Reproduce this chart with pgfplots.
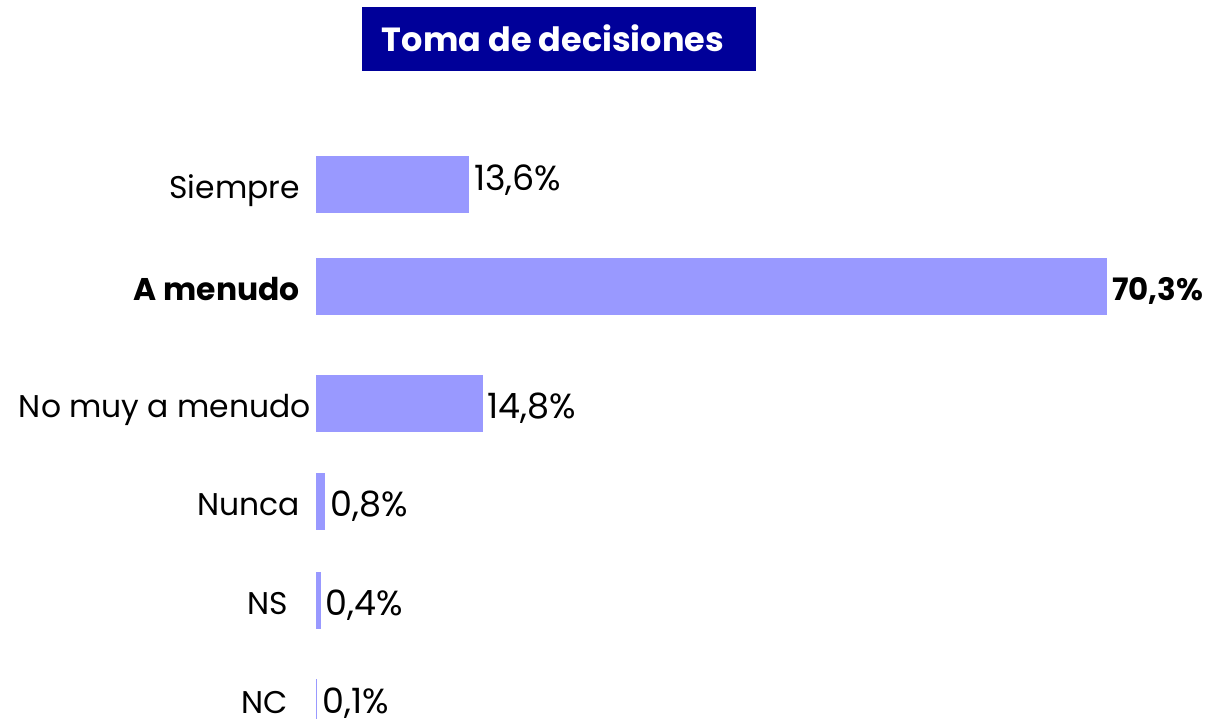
\documentclass[border=0pt]{standalone}
\usepackage{pgfplots}
\pgfplotsset{compat=1.18}
\usepackage{fontspec}
\setmainfont{Poppins}
\definecolor{barc}{HTML}{9999FF}
\definecolor{titc}{HTML}{000099}
\begin{document}
\begin{tikzpicture}
\useasboundingbox (0,0) rectangle (1212bp,-724bp);
\fill[titc] (362bp,-7bp) rectangle (756bp,-71bp);
\node[inner sep=0pt, text=white, anchor=base,
      font=\fontsize{33.6}{40}\selectfont\bfseries] at (553bp,-51bp) {Toma de decisiones};
\begin{axis}[
  at={(316bp,0bp)}, anchor=north west,
  scale only axis, width=900bp, height=724bp,
  xmin=0, xmax=80, ymin=0, ymax=724, y dir=reverse,
  axis line style={draw=none}, major tick length=0pt,
  xtick=\empty,
  ytick={184,286,403,501,600,699},
  yticklabels={Siempre, \textbf{A menudo}, No muy a menudo\kern-11bp, Nunca, NS\kern12bp, NC\kern12bp},
  yticklabel style={font=\fontsize{31.5}{38}\selectfont, inner sep=0pt, anchor=base east, xshift=-16bp, yshift=-14bp},
  xbar, bar width=57bp, bar shift=0pt,
  clip=false,
  nodes near coords, point meta=explicit symbolic,
  nodes near coords style={anchor=base west, inner sep=0pt, xshift=5bp, yshift=-15bp, font=\fontsize{35}{42}\selectfont},
]
\addplot[fill=barc, draw=none, nodes near coords style={yshift=9bp}] coordinates {(13.6,184) [13,6\%]};
\addplot[fill=barc, draw=none, nodes near coords style={yshift=1bp, font=\fontsize{31}{38}\selectfont\bfseries}] coordinates {(70.3,286) [70,3\%]};
\addplot[fill=barc, draw=none] coordinates {(14.8,403) [14,8\%]};
\addplot[fill=barc, draw=none] coordinates {(0.8,501) [0,8\%]};
\addplot[fill=barc, draw=none] coordinates {(0.4,600) [0,4\%]};
\addplot[fill=barc, draw=none, bar width=40bp, nodes near coords style={yshift=1bp}] coordinates {(0.1,699) [0,1\%]};
\end{axis}
\end{tikzpicture}
\end{document}
